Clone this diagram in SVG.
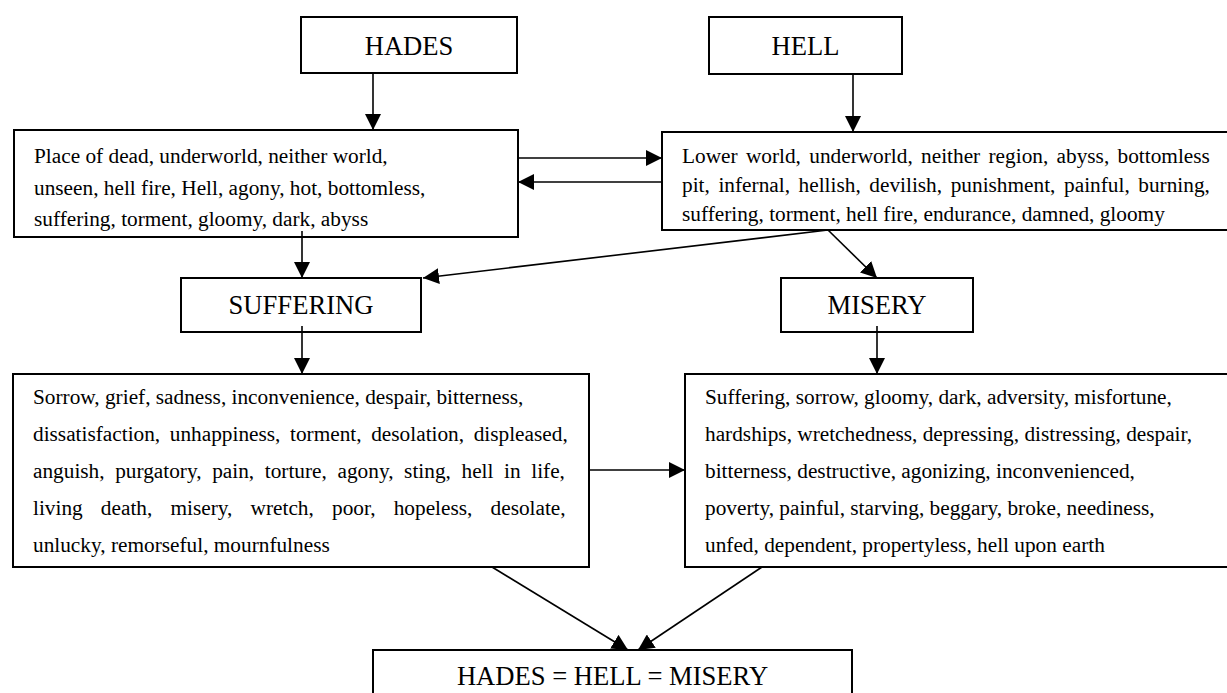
<svg xmlns="http://www.w3.org/2000/svg" width="1227" height="693" viewBox="0 0 1227 693">
<defs>
<marker id="ah" viewBox="0 0 16 16" refX="16" refY="8" markerWidth="16" markerHeight="16" markerUnits="userSpaceOnUse" orient="auto"><path d="M0,0 L16,8 L0,16 z" fill="#000"/></marker>
<style>
.box{fill:#fff;stroke:#000;stroke-width:2}
.h{font-family:"Liberation Serif","Times New Roman",serif;font-size:26.6px;text-anchor:middle;fill:#000}
.t{font-family:"Liberation Serif","Times New Roman",serif;font-size:21.3px;fill:#000}
.c{stroke:#000;stroke-width:1.6;fill:none;marker-end:url(#ah)}
</style>
</defs>
<rect width="1227" height="693" fill="#fff"/>
<g id="hades">
<rect class="box" x="301" y="17" width="216" height="56"/>
<text class="h" x="409" y="55">HADES</text>
</g>
<g id="hell">
<rect class="box" x="709" y="17" width="193" height="57"/>
<text class="h" x="805.5" y="55">HELL</text>
</g>
<g id="hades-desc">
<rect class="box" x="14" y="130" width="504" height="107"/>
<text class="t" x="34" y="163">Place of dead, underworld, neither world,</text>
<text class="t" x="34" y="195">unseen, hell fire, Hell, agony, hot, bottomless,</text>
<text class="t" x="34" y="226">suffering, torment, gloomy, dark, abyss</text>
</g>
<g id="hell-desc">
<rect class="box" x="662" y="132" width="567" height="98"/>
<text class="t" x="682" y="163" word-spacing="3">Lower world, underworld, neither region, abyss, bottomless</text>
<text class="t" x="682" y="192" word-spacing="3.3">pit, infernal, hellish, devilish, punishment, painful, burning,</text>
<text class="t" x="682" y="221">suffering, torment, hell fire, endurance, damned, gloomy</text>
</g>
<g id="suffering">
<rect class="box" x="181" y="278" width="240" height="54"/>
<text class="h" x="301" y="314">SUFFERING</text>
</g>
<g id="misery">
<rect class="box" x="781" y="278" width="192" height="54"/>
<text class="h" x="877" y="314">MISERY</text>
</g>
<g id="suffering-desc">
<rect class="box" x="13" y="374" width="576" height="193"/>
<text class="t" x="33" y="404">Sorrow, grief, sadness, inconvenience, despair, bitterness,</text>
<text class="t" x="33" y="441" word-spacing="4.3">dissatisfaction, unhappiness, torment, desolation, displeased,</text>
<text class="t" x="33" y="478" word-spacing="5.3">anguish, purgatory, pain, torture, agony, sting, hell in life,</text>
<text class="t" x="33" y="515" word-spacing="12.85">living death, misery, wretch, poor, hopeless, desolate,</text>
<text class="t" x="33" y="552">unlucky, remorseful, mournfulness</text>
</g>
<g id="misery-desc">
<rect class="box" x="685" y="374" width="544" height="193"/>
<text class="t" x="705" y="404">Suffering, sorrow, gloomy, dark, adversity, misfortune,</text>
<text class="t" x="705" y="441">hardships, wretchedness, depressing, distressing, despair,</text>
<text class="t" x="705" y="478">bitterness, destructive, agonizing, inconvenienced,</text>
<text class="t" x="705" y="515">poverty, painful, starving, beggary, broke, neediness,</text>
<text class="t" x="705" y="552">unfed, dependent, propertyless, hell upon earth</text>
</g>
<g id="conclusion">
<rect class="box" x="373" y="650" width="479" height="60"/>
<text class="h" x="612.5" y="685">HADES = HELL = MISERY</text>
</g>
<g id="connectors">
<line class="c" x1="373" y1="73" x2="373" y2="130"/>
<line class="c" x1="853" y1="74" x2="853" y2="132"/>
<line class="c" x1="518" y1="158" x2="662" y2="158"/>
<line class="c" x1="662" y1="182" x2="518" y2="182"/>
<line class="c" x1="302" y1="231" x2="302" y2="278"/>
<line class="c" x1="828" y1="230" x2="423" y2="278"/>
<line class="c" x1="828" y1="230" x2="877" y2="278"/>
<line class="c" x1="302" y1="326" x2="302" y2="374"/>
<line class="c" x1="877" y1="326" x2="877" y2="374"/>
<line class="c" x1="589" y1="470" x2="685" y2="470"/>
<line class="c" x1="492" y1="567" x2="628" y2="650"/>
<line class="c" x1="762" y1="567" x2="638" y2="650"/>
</g>
</svg>
